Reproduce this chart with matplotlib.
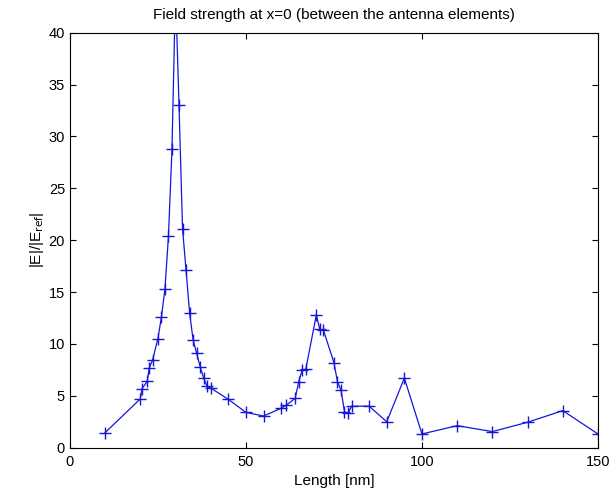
import numpy as np
import matplotlib
matplotlib.use("Agg")
import matplotlib.pyplot as plt

plt.rcParams['font.family'] = ['Liberation Sans', 'DejaVu Sans']

# length [nm] and field strength ratio
length = [10, 20, 20.5, 22, 22.5, 23.5, 25, 26, 27, 28, 29, 30, 31, 32, 33, 34,
          35, 36, 37, 38, 39, 40, 45, 50, 55, 60, 61.5, 64, 65, 66, 67, 70,
          71, 72, 75, 76, 77, 78, 79, 80, 85, 90, 95, 100, 110, 120, 130, 140, 150]
field = [1.45, 4.7, 5.7, 6.4, 7.65, 8.45, 10.5, 12.6, 15.3, 20.4, 28.8, 44.0,
         33.0, 21.1, 17.1, 13.0, 10.4, 9.1, 7.8, 6.7, 5.9, 5.75, 4.66, 3.4,
         3.05, 3.8, 4.1, 4.76, 6.36, 7.5, 7.55, 12.8, 11.4, 11.35, 8.2, 6.36,
         5.56, 3.47, 3.3, 4.0, 4.0, 2.5, 6.7, 1.32, 2.12, 1.55, 2.45, 3.57, 1.32]

fig = plt.figure(figsize=(6.13, 4.95), dpi=100)
ax = fig.add_axes([0.114, 0.0956, 0.8615, 0.8384])

ax.plot(length, field, color='#1515d8', linewidth=0.9, marker='+',
        markersize=8, markeredgewidth=1.0)

ax.set_xlim(0, 150)
ax.set_ylim(0, 40)
ax.set_xticks([0, 50, 100, 150])
ax.set_yticks(np.arange(0, 41, 5))
ax.tick_params(direction='in', top=True, right=True, labelsize=10.5, length=4)
ax.tick_params(axis='x', pad=5)
for s in ax.spines.values():
    s.set_linewidth(0.8)

ax.set_title('Field strength at x=0 (between the antenna elements)', fontsize=11, pad=10)
ax.set_xlabel('Length [nm]', fontsize=11, labelpad=4)
ax.set_ylabel(r'|E|/|E$_{\rm ref}$|', fontsize=11, labelpad=2)

fig.savefig('out.png', dpi=100)
